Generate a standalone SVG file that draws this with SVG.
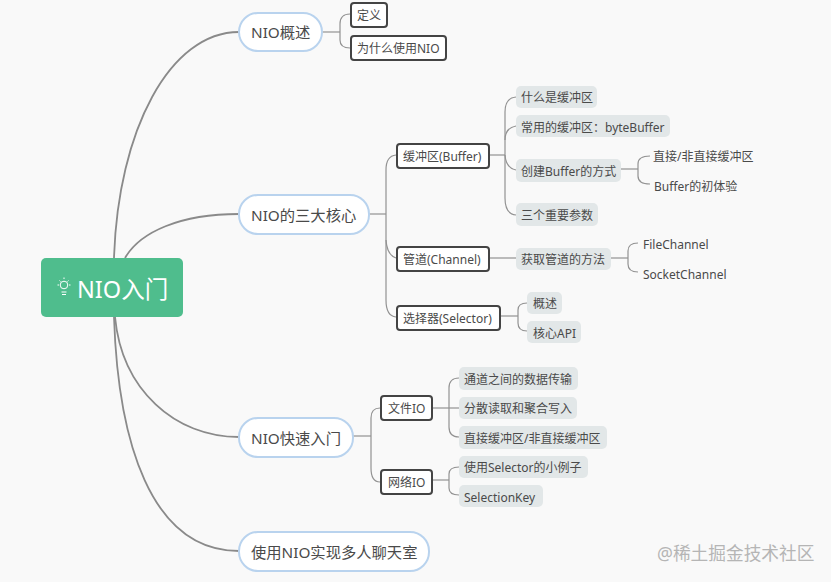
<svg xmlns="http://www.w3.org/2000/svg" width="831" height="582" viewBox="0 0 831 582">
<style>
text{font-family:"Noto Sans","Noto Sans CJK SC",sans-serif;fill:#4a4a4a;dominant-baseline:central}
.l1 rect{fill:#fff;stroke:#b9d3ee;stroke-width:2}
.l1 text{font-size:15.3px}
.l2 rect{fill:#fff;stroke:#444;stroke-width:2}
.l2 text,.l3 text,.l4 text{font-size:12px}
.l3 rect{fill:#e2e7e8}
#edges path{fill:none;stroke:#929292;stroke-width:1.2}
#edges .t{stroke:#8a8a8a;stroke-width:1.8}
</style>
<rect width="831" height="582" fill="#f9f9f9"/>
<g id="edges">
<path class="t" d="M114 258C118 130 170 32 239 32"/>
<path class="t" d="M125 258C140 232 180 214 239 214"/>
<path class="t" d="M115 317C122 390 175 437 239 437"/>
<path class="t" d="M114 317C118 440 150 551 239 551"/>
<path d="M322 32H340"/><path d="M350 14Q340 14 340 24V40Q340 48 350 48"/>
<path d="M369 214H386"/><path d="M396 155Q386 156 386 170V300Q386 316 396 317"/><path d="M386 240Q387 255 396 258"/>
<path d="M489 155H505"/><path d="M516 97Q505 98 505 112V198Q505 214 516 215"/><path d="M505 155Q506 168 516 170"/><path d="M505 140Q505 128 516 126"/>
<path d="M621 169H638"/><path d="M650 156Q638 156 638 164V176Q638 184 650 184"/>
<path d="M489 258H516"/><path d="M611 258H628"/><path d="M638 243Q628 243 628 251V264Q628 272 638 272"/>
<path d="M500 316H518"/><path d="M527 303Q518 303 518 310V323Q518 331 527 331"/>
<path d="M353 436H371"/><path d="M380 408Q371 408 371 418V468Q371 482 380 482"/>
<path d="M432 408H459"/><path d="M459 378Q449 378 449 388V427Q449 437 459 437"/>
<path d="M432 480H449"/><path d="M459 467Q449 467 449 474V488Q449 495 459 495"/>
</g>
<g id="root"><rect x="41" y="258" width="142" height="59" rx="5" fill="#4fbd8d"/>
<g fill="none" stroke="#fff" stroke-width="1"><circle cx="64" cy="285" r="3.8"/><path d="M61.5 292H66.5M62 294.5H66M64 277.5V279M57.5 285H59M69 285H70.500M59.5 280.5L60.5 281.5M68.500 280.500L67.500 281.500"/></g>
<text x="77" y="289" style="font-size:23.500px;fill:#fff">NIO入门</text></g>
<g id="n1" class="l1"><rect x="239" y="13" width="83" height="38" rx="19"/><text x="251" y="31.500">NIO概述</text></g>
<g id="n2" class="l1"><rect x="239" y="195" width="130" height="39" rx="19"/><text x="251" y="214.500">NIO的三大核心</text></g>
<g id="n3" class="l1"><rect x="239" y="418" width="114" height="39" rx="19"/><text x="251" y="437.500">NIO快速入门</text></g>
<g id="n4" class="l1"><rect x="239" y="532" width="190" height="39" rx="19"/><text x="251" y="551.500">使用NIO实现多人聊天室</text></g>
<g id="n5" class="l2"><rect x="351" y="3" width="36" height="24" rx="3"/><text x="357" y="15.500">定义</text></g>
<g id="n6" class="l2"><rect x="351" y="36" width="95" height="24" rx="3"/><text x="357" y="48.500">为什么使用NIO</text></g>
<g id="n7" class="l2"><rect x="397" y="144" width="92" height="24" rx="3"/><text x="403" y="156.500">缓冲区(Buffer)</text></g>
<g id="n8" class="l2"><rect x="397" y="247" width="92" height="24" rx="3"/><text x="403" y="259.500">管道(Channel)</text></g>
<g id="n9" class="l2"><rect x="397" y="306" width="103" height="24" rx="3"/><text x="403" y="318.500">选择器(Selector)</text></g>
<g id="n10" class="l2"><rect x="381" y="396" width="51" height="24" rx="3"/><text x="388" y="408.500">文件IO</text></g>
<g id="n11" class="l2"><rect x="381" y="470" width="51" height="24" rx="3"/><text x="388" y="482.500">网络IO</text></g>
<g id="n12" class="l3"><rect x="516" y="86" width="81" height="22" rx="5"/><text x="521" y="97.500">什么是缓冲区</text></g>
<g id="n13" class="l3"><rect x="516" y="115" width="154" height="22" rx="5"/><text x="521" y="127">常用的缓冲区：byteBuffer</text></g>
<g id="n14" class="l3"><rect x="516" y="159" width="105" height="23" rx="5"/><text x="521" y="171">创建Buffer的方式</text></g>
<g id="n15" class="l3"><rect x="516" y="203" width="82" height="23" rx="5"/><text x="521" y="215">三个重要参数</text></g>
<g id="n16" class="l3"><rect x="516" y="248" width="95" height="22" rx="5"/><text x="521" y="259">获取管道的方法</text></g>
<g id="n17" class="l3"><rect x="527" y="292" width="35" height="22" rx="5"/><text x="533" y="303">概述</text></g>
<g id="n18" class="l3"><rect x="527" y="321" width="54" height="22" rx="5"/><text x="533" y="333">核心API</text></g>
<g id="n19" class="l3"><rect x="459" y="367" width="119" height="23" rx="5"/><text x="464" y="379">通道之间的数据传输</text></g>
<g id="n20" class="l3"><rect x="459" y="397" width="118" height="22" rx="5"/><text x="464" y="408">分散读取和聚合写入</text></g>
<g id="n21" class="l3"><rect x="459" y="426" width="148" height="23" rx="5"/><text x="464" y="438">直接缓冲区/非直接缓冲区</text></g>
<g id="n22" class="l3"><rect x="459" y="456" width="129" height="22" rx="5"/><text x="464" y="467">使用Selector的小例子</text></g>
<g id="n23" class="l3"><rect x="459" y="485" width="84" height="22" rx="5"/><text x="464" y="497">SelectionKey</text></g>
<g id="n24" class="l4"><text x="653" y="156.500">直接/非直接缓冲区</text></g>
<g id="n25" class="l4"><text x="654" y="186.500">Buffer的初体验</text></g>
<g id="n26" class="l4"><text x="643" y="244.500">FileChannel</text></g>
<g id="n27" class="l4"><text x="643" y="274.500">SocketChannel</text></g>
<text x="657" y="553" style="font-size:17.700px;fill:#b5b5b5">@稀土掘金技术社区</text>
</svg>
